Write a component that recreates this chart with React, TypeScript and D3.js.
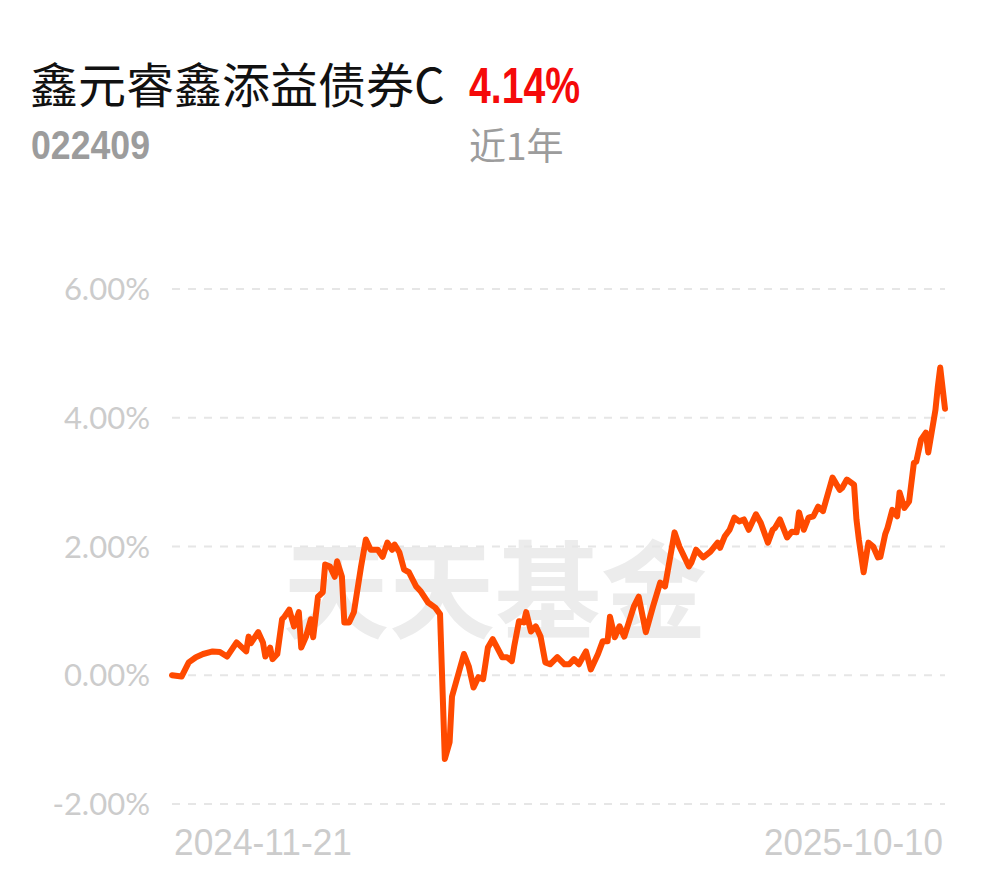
import React from "react";
import * as d3 from "d3";

const fundName = "鑫元睿鑫添益债券C";
const fundCode = "022409";
const periodReturn = "4.14%";
const periodLabel = "近1年";
const watermark = "天天基金";

const xTickLabels = ["2024-11-21", "2025-10-10"];
const yTicks = [-2, 0, 2, 4, 6];

// calendar-day offsets from 2024-11-21
const dayOffsets = [
  0, 4, 7, 10, 13, 17, 20, 23, 27, 31, 32, 33, 36, 38, 39, 41, 42, 44, 46, 47,
  49, 51, 53, 54, 56, 58, 59, 61, 63, 64, 66, 68, 69, 71, 72, 74, 76, 79, 81, 83,
  86, 88, 90, 92, 93, 95, 97, 99, 102, 104, 107, 110, 112, 114, 116, 117, 122, 124, 126, 128,
  130, 132, 134, 138, 140, 142, 143, 145, 147, 148, 150, 152, 154, 156, 158, 161, 164, 166, 168, 170,
  173, 175, 178, 180, 182, 183, 185, 187, 189, 193, 195, 198, 201, 204, 206, 210, 212, 216, 217, 219,
  222, 225, 228, 229, 231, 233, 235, 237, 239, 241, 244, 246, 249, 251, 252, 254, 257, 259, 261, 262,
  264, 266, 268, 270, 272, 276, 279, 280, 282, 285, 286, 287, 289, 291, 293, 295, 296, 298, 299, 301,
  303, 304, 306, 308, 310, 311, 313, 315, 316, 319, 320, 321, 323,
];

// cumulative return, %
const returns = [
  0.0, -0.02, 0.2, 0.28, 0.33, 0.37, 0.36, 0.29, 0.51, 0.37, 0.6, 0.5, 0.67, 0.51, 0.29, 0.43, 0.25, 0.33, 0.87, 0.91,
  1.02, 0.76, 0.98, 0.43, 0.6, 0.87, 0.59, 1.22, 1.29, 1.72, 1.69, 1.53, 1.77, 1.53, 0.82, 0.82, 0.98, 1.69, 2.11, 1.95,
  1.95, 1.84, 2.06, 1.95, 2.03, 1.91, 1.64, 1.6, 1.38, 1.3, 1.13, 1.05, 0.95, -1.3, -1.04, -0.33, 0.33, 0.14, -0.19, -0.03,
  -0.06, 0.43, 0.56, 0.28, 0.28, 0.22, 0.45, 0.84, 0.82, 0.98, 0.68, 0.76, 0.6, 0.2, 0.17, 0.28, 0.17, 0.17, 0.25, 0.17,
  0.37, 0.09, 0.33, 0.53, 0.53, 0.91, 0.59, 0.76, 0.6, 1.07, 1.22, 0.67, 1.07, 1.44, 1.38, 2.22, 2.0, 1.69, 1.75, 1.95,
  1.83, 1.92, 2.06, 1.98, 2.16, 2.26, 2.45, 2.39, 2.42, 2.26, 2.5, 2.37, 2.06, 2.26, 2.29, 2.42, 2.14, 2.23, 2.22, 2.53,
  2.26, 2.45, 2.47, 2.62, 2.55, 3.07, 2.88, 2.91, 3.04, 2.96, 2.42, 2.11, 1.6, 2.06, 2.0, 1.83, 1.84, 2.19, 2.29, 2.57,
  2.47, 2.84, 2.6, 2.7, 3.3, 3.32, 3.66, 3.77, 3.46, 4.12, 4.48, 4.78, 4.14,
];

const W = 990;
const H = 878;
const plotLeft = 172;
const plotRight = 945;

export default function App() {
  const x = d3.scaleLinear().domain([0, 323]).range([plotLeft, plotRight]);
  const y = d3.scaleLinear().domain([-2, 6]).range([804, 289]);
  const pts: [number, number][] = dayOffsets.map((d, i) => [d, returns[i]]);
  const line = d3
    .line<[number, number]>()
    .x((d) => x(d[0]))
    .y((d) => y(d[1]))
    .curve(d3.curveLinear);

  const fmt = (v: number) => v.toFixed(2) + "%";
  const narrow = "'Liberation Sans Narrow', 'Liberation Sans', sans-serif";

  return (
    <div style={{ position: "absolute", left: 0, top: 0 }}>
      <svg width={W} height={H} style={{ display: "block", background: "#fff" }}>
        <text
          x={30}
          y={103}
          fontFamily="'Noto Sans CJK SC', 'Noto Sans', sans-serif"
          fontSize={48}
          fill="#111"
        >
          {fundName}
        </text>
        <text
          x={469}
          y={103}
          fontFamily={narrow}
          fontWeight="bold"
          fontSize={50}
          fill="#f50a0a"
          textLength={111}
          lengthAdjust="spacingAndGlyphs"
        >
          {periodReturn}
        </text>
        <text
          x={31}
          y={159}
          fontFamily={narrow}
          fontWeight="bold"
          fontSize={40}
          fill="#9c9c9c"
          textLength={119}
          lengthAdjust="spacingAndGlyphs"
        >
          {fundCode}
        </text>
        <text
          x={469}
          y={160}
          fontFamily="'Noto Sans CJK SC', sans-serif"
          fontSize={37}
          fill="#9c9c9c"
        >
          {periodLabel}
        </text>

        <text
          x={495}
          y={630}
          textAnchor="middle"
          fontFamily="'Noto Sans CJK SC', sans-serif"
          fontWeight="bold"
          fontSize={106}
          fill="#ececec"
        >
          {watermark}
        </text>

        {yTicks.map((t) => (
          <g key={t}>
            <line
              x1={plotLeft}
              x2={plotRight}
              y1={y(t)}
              y2={y(t)}
              stroke="#e6e6e6"
              strokeWidth={2}
              strokeDasharray="8 8"
            />
            <text
              x={150}
              y={y(t) + 11}
              textAnchor="end"
              fontFamily="Lato, Roboto, sans-serif"
              fontSize={31}
              fill="#cccccc"
            >
              {fmt(t)}
            </text>
          </g>
        ))}

        <path
          d={line(pts) || ""}
          fill="none"
          stroke="#ff4a00"
          strokeWidth={6}
          strokeLinejoin="round"
          strokeLinecap="round"
        />

        <text
          x={174}
          y={855}
          fontFamily={narrow}
          fontSize={36}
          fill="#cccccc"
          textLength={178}
          lengthAdjust="spacingAndGlyphs"
        >
          {xTickLabels[0]}
        </text>
        <text
          x={764}
          y={855}
          fontFamily={narrow}
          fontSize={36}
          fill="#cccccc"
          textLength={179}
          lengthAdjust="spacingAndGlyphs"
        >
          {xTickLabels[1]}
        </text>
      </svg>
    </div>
  );
}
